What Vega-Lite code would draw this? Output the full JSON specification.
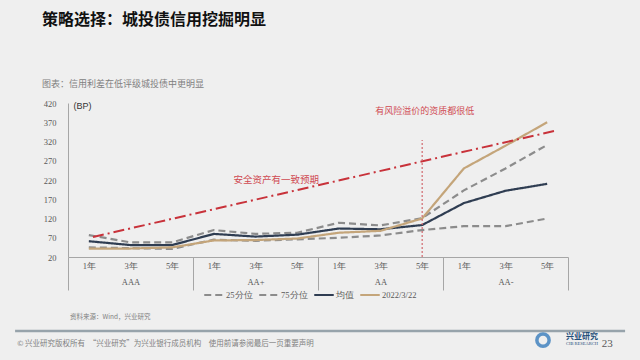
{
  "$schema": "https://vega.github.io/schema/vega-lite/v6.json",
  "width": 500,
  "height": 154,
  "autosize": {"type": "none"},
  "padding": {"left": 68, "top": 103, "right": 72, "bottom": 103},
  "background": "#efefef",
  "config": {"view": {"stroke": null}, "font": "Liberation Serif", "axis": {"labelOverlap": false}},
  "title": {
    "text": "策略选择：城投债信用挖掘明显",
    "subtitle": "\u3000图表：信用利差在低评级城投债中更明显",
    "anchor": "start",
    "frame": "group",
    "dx": -26,
    "offset": 10,
    "font": "Noto Sans CJK SC",
    "fontSize": 16,
    "fontWeight": "bold",
    "color": "#111111",
    "subtitleFont": "Noto Sans CJK SC",
    "subtitleFontSize": 9,
    "subtitleColor": "#808080",
    "subtitlePadding": 52
  },
  "layer": [
    {
      "data": {"values": [
        {"i": 0, "s": "25分位", "v": 45}, {"i": 1, "s": "25分位", "v": 43}, {"i": 2, "s": "25分位", "v": 41},
        {"i": 3, "s": "25分位", "v": 65}, {"i": 4, "s": "25分位", "v": 62}, {"i": 5, "s": "25分位", "v": 66},
        {"i": 6, "s": "25分位", "v": 70}, {"i": 7, "s": "25分位", "v": 76}, {"i": 8, "s": "25分位", "v": 90},
        {"i": 9, "s": "25分位", "v": 100}, {"i": 10, "s": "25分位", "v": 100}, {"i": 11, "s": "25分位", "v": 120},
        {"i": 0, "s": "75分位", "v": 77}, {"i": 1, "s": "75分位", "v": 58}, {"i": 2, "s": "75分位", "v": 58},
        {"i": 3, "s": "75分位", "v": 90}, {"i": 4, "s": "75分位", "v": 80}, {"i": 5, "s": "75分位", "v": 83},
        {"i": 6, "s": "75分位", "v": 109}, {"i": 7, "s": "75分位", "v": 102}, {"i": 8, "s": "75分位", "v": 121},
        {"i": 9, "s": "75分位", "v": 193}, {"i": 10, "s": "75分位", "v": 250}, {"i": 11, "s": "75分位", "v": 311},
        {"i": 0, "s": "均值", "v": 61}, {"i": 1, "s": "均值", "v": 51}, {"i": 2, "s": "均值", "v": 51},
        {"i": 3, "s": "均值", "v": 80}, {"i": 4, "s": "均值", "v": 73}, {"i": 5, "s": "均值", "v": 78},
        {"i": 6, "s": "均值", "v": 94}, {"i": 7, "s": "均值", "v": 92}, {"i": 8, "s": "均值", "v": 103},
        {"i": 9, "s": "均值", "v": 160}, {"i": 10, "s": "均值", "v": 192}, {"i": 11, "s": "均值", "v": 210},
        {"i": 0, "s": "2022/3/22", "v": 42}, {"i": 1, "s": "2022/3/22", "v": 42}, {"i": 2, "s": "2022/3/22", "v": 45},
        {"i": 3, "s": "2022/3/22", "v": 63}, {"i": 4, "s": "2022/3/22", "v": 64}, {"i": 5, "s": "2022/3/22", "v": 68},
        {"i": 6, "s": "2022/3/22", "v": 83}, {"i": 7, "s": "2022/3/22", "v": 88}, {"i": 8, "s": "2022/3/22", "v": 120},
        {"i": 9, "s": "2022/3/22", "v": 250}, {"i": 10, "s": "2022/3/22", "v": 309}, {"i": 11, "s": "2022/3/22", "v": 370}
      ]},
      "mark": {"type": "line", "strokeWidth": 2.2},
      "encoding": {
        "x": {
          "field": "i", "type": "quantitative",
          "scale": {"domain": [-0.5, 11.5], "nice": false, "zero": false},
          "axis": {
            "title": null,
            "values": [-0.5, 0, 1, 2, 2.5, 3, 4, 5, 5.5, 6, 7, 8, 8.5, 9, 10, 11, 11.5],
            "tickCount": 40,
            "labelExpr": "datum.value % 1 != 0 ? '' : (datum.value % 3 == 1 ? ['3年', ['AAA','AA+','AA','AA-'][floor(datum.value / 3)]] : (datum.value % 3 == 0 ? '1年' : '5年'))",
            "labelLineHeight": 16,
            "labelFontSize": 8.5,
            "labelColor": "#595959",
            "labelOverlap": false,
            "labelBound": false,
            "labelFlush": false,
            "labelPadding": -29,
            "tickSize": 33,
            "tickColor": "#a6a6a6",
            "tickOpacity": {"condition": {"test": "datum.value % 1 != 0", "value": 1}, "value": 0},
            "domainColor": "#a6a6a6",
            "grid": false
          }
        },
        "y": {
          "field": "v", "type": "quantitative",
          "scale": {"domain": [20, 420], "nice": false, "zero": false},
          "axis": {
            "title": "(BP)",
            "titleAngle": 0,
            "titleAlign": "left",
            "titleBaseline": "top",
            "titleX": 5,
            "titleY": -2,
            "titleFont": "Liberation Sans",
            "titleFontSize": 9,
            "titleFontWeight": "normal",
            "titleColor": "#333333",
            "values": [20, 70, 120, 170, 220, 270, 320, 370, 420],
            "tickCount": 20,
            "labelOverlap": false,
            "labelFontSize": 8.5,
            "labelColor": "#595959",
            "labelPadding": 12,
            "ticks": false,
            "domainColor": "#a6a6a6",
            "grid": false
          }
        },
        "color": {
          "field": "s", "type": "nominal",
          "scale": {"domain": ["25分位", "75分位", "均值", "2022/3/22"], "range": ["#8c8c8c", "#8c8c8c", "#2f3d52", "#c4a57a"]},
          "legend": {
            "title": null,
            "orient": "none",
            "legendX": 135,
            "legendY": 181,
            "direction": "horizontal",
            "gridAlign": "none",
            "symbolType": "stroke",
            "symbolSize": 380,
            "symbolStrokeWidth": 2.2,
            "labelFontSize": 8.5,
            "labelColor": "#595959",
            "labelOffset": 1,
            "columnPadding": 1
          }
        },
        "strokeDash": {
          "field": "s", "type": "nominal",
          "scale": {"domain": ["25分位", "75分位", "均值", "2022/3/22"], "range": [[7, 4], [7, 4], [1, 0], [1, 0]]},
          "legend": {
            "title": null,
            "orient": "none",
            "legendX": 135,
            "legendY": 181,
            "direction": "horizontal",
            "gridAlign": "none",
            "symbolType": "stroke",
            "symbolSize": 380,
            "symbolStrokeWidth": 2.2,
            "labelFontSize": 8.5,
            "labelColor": "#595959",
            "labelOffset": 1,
            "columnPadding": 1
          }
        }
      }
    },
    {
      "data": {"values": [{"i": 0.1, "v": 72}, {"i": 11.2, "v": 348}]},
      "mark": {"type": "line", "color": "#c8323a", "strokeWidth": 2, "strokeDash": [11, 4, 2, 4], "clip": false},
      "encoding": {
        "x": {"field": "i", "type": "quantitative"},
        "y": {"field": "v", "type": "quantitative"}
      }
    },
    {
      "data": {"values": [{}]},
      "mark": {"type": "rule", "color": "#d0676c", "strokeWidth": 1.2, "strokeDash": [2, 2]},
      "encoding": {
        "x": {"datum": 8},
        "y": {"datum": 20},
        "y2": {"datum": 324}
      }
    },
    {
      "data": {"values": [{}]},
      "mark": {"type": "text", "text": "安全资产有一致预期", "font": "Noto Sans CJK SC", "fontSize": 9.5, "color": "#cf4a52"},
      "encoding": {"x": {"datum": 4.5}, "y": {"datum": 220}}
    },
    {
      "data": {"values": [{}]},
      "mark": {"type": "text", "text": "有风险溢价的资质都很低", "font": "Noto Sans CJK SC", "fontSize": 9, "color": "#cf4a52"},
      "encoding": {"x": {"datum": 8.06}, "y": {"datum": 399}}
    },
    {
      "data": {"values": [{}]},
      "mark": {"type": "text", "text": "资料来源：Wind，兴业研究", "align": "left", "dx": 2, "font": "Noto Sans CJK SC", "fontSize": 6.5, "color": "#808080", "clip": false},
      "encoding": {"x": {"datum": -0.5}, "y": {"datum": -136}}
    },
    {
      "data": {"values": [{}]},
      "mark": {"type": "rule", "color": "#97a3ab", "strokeWidth": 2.5, "clip": false},
      "encoding": {"x": {"datum": -1.77}, "x2": {"datum": 12.87}, "y": {"datum": -172}}
    },
    {
      "data": {"values": [{}]},
      "mark": {"type": "text", "text": "© 兴业研究版权所有　“兴业研究”为兴业银行成员机构　使用前请参阅最后一页重要声明", "align": "left", "font": "Noto Sans CJK SC", "fontSize": 7.5, "color": "#7f7f7f", "clip": false},
      "encoding": {"x": {"datum": -1.72}, "y": {"datum": -206}}
    },
    {
      "data": {"values": [{}]},
      "mark": {"type": "point", "shape": "circle", "size": 150, "filled": false, "strokeWidth": 3.5, "color": "#1f6db5", "clip": false},
      "encoding": {"x": {"datum": 10.9}, "y": {"datum": -196}}
    },
    {
      "data": {"values": [{}]},
      "mark": {"type": "text", "text": "兴业研究", "align": "left", "font": "Noto Sans CJK SC", "fontSize": 8, "fontWeight": "bold", "color": "#1f4e79", "clip": false},
      "encoding": {"x": {"datum": 11.45}, "y": {"datum": -187}}
    },
    {
      "data": {"values": [{}]},
      "mark": {"type": "text", "text": "CIB RESEARCH", "align": "left", "font": "Liberation Serif", "fontSize": 4.5, "color": "#1f4e79", "clip": false},
      "encoding": {"x": {"datum": 11.45}, "y": {"datum": -206}}
    },
    {
      "data": {"values": [{}]},
      "mark": {"type": "text", "text": "23", "font": "Liberation Serif", "fontSize": 11, "color": "#595959", "clip": false},
      "encoding": {"x": {"datum": 12.44}, "y": {"datum": -205}}
    }
  ]
}
